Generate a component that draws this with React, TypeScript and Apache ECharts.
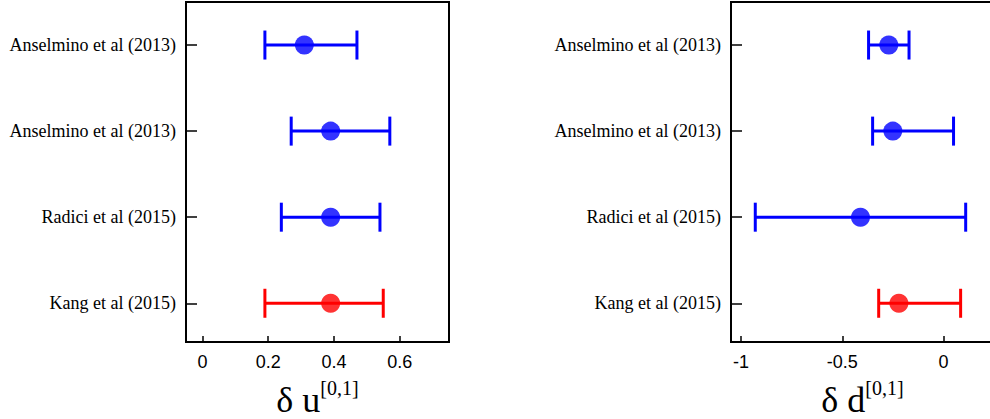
import React, { useEffect, useRef } from "react";
import * as echarts from "echarts";

// rows from bottom to top
const rowLabels = ["Kang et al (2015)", "Radici et al (2015)", "Anselmino et al (2013)", "Anselmino et al (2013)"];
const rowPositions = [1, 2, 3, 4];

const uCentral = [0.39, 0.39, 0.39, 0.31];
const uLow = [0.19, 0.24, 0.27, 0.19];
const uHigh = [0.55, 0.54, 0.57, 0.47];

const dCentral = [-0.22, -0.41, -0.25, -0.27];
const dLow = [-0.32, -0.93, -0.35, -0.37];
const dHigh = [0.085, 0.11, 0.05, -0.17];

const uTicks = [0, 0.2, 0.4, 0.6];
const dTicks = [-1, -0.5, 0];

const RED = "#ff0000";
const BLUE = "#0000ff";
const rowColor = (i: number) => (i === 0 ? RED : BLUE);

const SERIF = "'Liberation Serif', 'Times New Roman', serif";
const SANS = "'Liberation Sans', Arial, sans-serif";

function errorRender(params: any, api: any) {
  const y = api.value(1);
  const lo = api.value(2);
  const hi = api.value(3);
  const p1 = api.coord([lo, y]);
  const p2 = api.coord([hi, y]);
  const color = api.visual("color");
  const cap = 14.5;
  const style = { stroke: color, lineWidth: 3, fill: "none" };
  return {
    type: "group",
    children: [
      { type: "line", shape: { x1: p1[0], y1: p1[1], x2: p2[0], y2: p2[1] }, style },
      { type: "line", shape: { x1: p1[0], y1: p1[1] - cap, x2: p1[0], y2: p1[1] + cap }, style },
      { type: "line", shape: { x1: p2[0], y1: p2[1] - cap, x2: p2[0], y2: p2[1] + cap }, style },
    ],
  };
}

function xName(letter: string) {
  return `{a|δ ${letter}}{b|[0,1]}`;
}

const nameRich = {
  a: { fontFamily: SERIF, fontSize: 36, color: "#000", padding: [4, 0, 0, 0] },
  b: { fontFamily: SERIF, fontSize: 20, color: "#000", verticalAlign: "top" },
};

function makeX(gridIndex: number, min: number, max: number, ticks: number[], letter: string) {
  return {
    type: "value",
    gridIndex,
    min,
    max,
    name: xName(letter),
    nameLocation: "middle",
    nameGap: 36,
    nameMoveOverlap: false,
    nameTextStyle: { rich: nameRich },
    axisLine: { show: true, onZero: false, lineStyle: { color: "#000", width: 2 } },
    splitLine: { show: false },
    axisTick: {
      show: true,
      inside: true,
      length: 6,
      customValues: ticks,
      lineStyle: { color: "#000", width: 1.5 },
    },
    axisLabel: {
      show: true,
      customValues: ticks,
      margin: 11,
      fontFamily: SANS,
      fontSize: 18,
      color: "#000",
      formatter: (v: number) => String(v),
    },
  };
}

function makeY(gridIndex: number) {
  return {
    type: "value",
    gridIndex,
    min: 0.55,
    max: 4.5,
    axisLine: { show: true, onZero: false, lineStyle: { color: "#000", width: 2 } },
    splitLine: { show: false },
    axisTick: {
      show: true,
      inside: true,
      length: 11,
      customValues: rowPositions,
      lineStyle: { color: "#000", width: 1.5 },
    },
    axisLabel: {
      show: true,
      customValues: rowPositions,
      margin: 10,
      fontFamily: SERIF,
      fontSize: 18,
      color: "#000",
      formatter: (v: number) => rowLabels[Math.round(v) - 1] ?? "",
    },
  };
}

function errData(central: number[], low: number[], high: number[]) {
  return central.map((c, i) => ({
    value: [c, rowPositions[i], low[i], high[i]],
    itemStyle: { color: rowColor(i) },
  }));
}

function dotData(central: number[]) {
  return central.map((c, i) => ({
    value: [c, rowPositions[i]],
    itemStyle: { color: rowColor(i) },
  }));
}

export default function App() {
  const ref = useRef<HTMLDivElement>(null);
  useEffect(() => {
    document.body.style.margin = "0";
    if (!ref.current) return;
    const chart = echarts.init(ref.current, undefined, { renderer: "svg" });
    chart.setOption({
      animation: false,
      backgroundColor: "#fff",
      grid: [
        { left: 186, top: 2, width: 263, height: 340, show: true, borderColor: "#000", borderWidth: 2, backgroundColor: "transparent", outerBoundsMode: "none", containLabel: false },
        { left: 731, top: 2, width: 263, height: 340, show: true, borderColor: "#000", borderWidth: 2, backgroundColor: "transparent", outerBoundsMode: "none", containLabel: false },
      ],
      xAxis: [makeX(0, -0.05, 0.75, uTicks, "u"), makeX(1, -1.05, 0.25, dTicks, "d")],
      yAxis: [makeY(0), makeY(1)],
      series: [
        { type: "custom", xAxisIndex: 0, yAxisIndex: 0, renderItem: errorRender, data: errData(uCentral, uLow, uHigh), z: 2, clip: false },
        { type: "scatter", xAxisIndex: 0, yAxisIndex: 0, symbol: "circle", symbolSize: 19, data: dotData(uCentral), z: 3 },
        { type: "custom", xAxisIndex: 1, yAxisIndex: 1, renderItem: errorRender, data: errData(dCentral, dLow, dHigh), z: 2, clip: false },
        { type: "scatter", xAxisIndex: 1, yAxisIndex: 1, symbol: "circle", symbolSize: 19, data: dotData(dCentral), z: 3 },
      ],
    });
    return () => chart.dispose();
  }, []);
  return <div ref={ref} style={{ width: 990, height: 419 }} />;
}
